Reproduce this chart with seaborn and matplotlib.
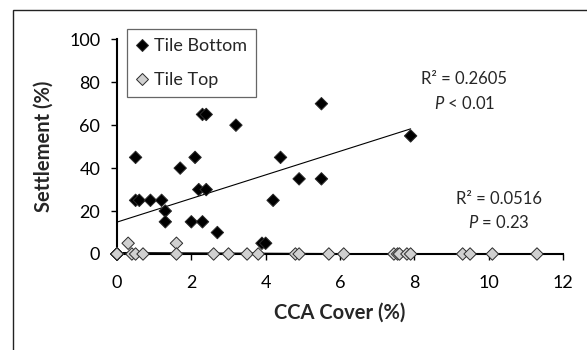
import matplotlib
matplotlib.use("Agg")
import matplotlib.pyplot as plt
import seaborn as sns
import numpy as np
import pandas as pd
from matplotlib.patches import Rectangle

# ---- data ----
bottom_cover = [0, 0, 0, 0, 0, 0.5, 0.5, 0.6, 0.9, 1.2, 1.3, 1.3, 1.7, 2.0, 2.1, 2.2,
                2.3, 2.3, 2.4, 2.4, 2.7, 3.2, 3.9, 4.0, 4.2, 4.4, 4.9, 5.5, 5.5, 7.9]
bottom_settle = [0, 0, 0, 0, 0, 45, 25, 25, 25, 25, 20, 15, 40, 15, 45, 30,
                 65, 15, 65, 30, 10, 60, 5, 5, 25, 45, 35, 35, 70, 55]
top_cover = [0, 0, 0, 0, 0, 0.0, 0.3, 0.4, 0.5, 0.7, 1.6, 1.6, 2.6, 3.0, 3.5, 3.8,
             4.8, 4.9, 5.7, 6.1, 7.45, 7.55, 7.6, 7.8, 7.9, 9.3, 9.5, 10.1, 11.3]
top_settle = [0, 0, 0, 0, 0, 0, 5, 0, 0, 0, 5, 0, 0, 0, 0, 0,
              0, 0, 0, 0, 0, 0, 0, 0, 0, 0, 0, 0, 0]
series_names = ["Tile Bottom", "Tile Top"]
x_ticks = [0, 2, 4, 6, 8, 10, 12]
y_ticks = [0, 20, 40, 60, 80, 100]
stats_bottom = ["R\u00b2 = 0.2605", "$\\mathit{P}$ < 0.01"]
stats_top = ["R\u00b2 = 0.0516", "$\\mathit{P}$ = 0.23"]

sns.set_style("ticks")
plt.rcParams["font.family"] = ["Lato", "DejaVu Sans"]
plt.rcParams["mathtext.fontset"] = "custom"
plt.rcParams["mathtext.it"] = "Lato:italic"
plt.rcParams["mathtext.rm"] = "Lato"

df = pd.DataFrame({
    "cover": bottom_cover + top_cover,
    "settle": bottom_settle + top_settle,
    "tile": [series_names[0]] * len(bottom_cover) + [series_names[1]] * len(top_cover),
})

fig = plt.figure(figsize=(5.87, 3.5), dpi=100)
ax = fig.add_axes([117 / 587, 96 / 350, 446 / 587, 214.7 / 350])

palette = {series_names[0]: "black", series_names[1]: "#d0d0d0"}
sns.scatterplot(data=df, x="cover", y="settle", hue="tile", hue_order=series_names,
                palette=palette, marker="D", s=40, edgecolor="#2a2a2a", linewidth=0.7,
                clip_on=False, zorder=4, ax=ax)

# linear trendlines
for xs, ys in [(bottom_cover, bottom_settle), (top_cover, top_settle)]:
    xs = np.asarray(xs, float)
    ys = np.asarray(ys, float)
    k, b = np.polyfit(xs, ys, 1)
    xl = np.array([xs.min(), xs.max()])
    sns.lineplot(x=xl, y=k * xl + b, color="black", linewidth=0.8, ax=ax, zorder=3)

ax.set_xlim(0, 12)
ax.set_ylim(0, 100)
ax.set_xticks(x_ticks)
ax.set_yticks(y_ticks)
ax.tick_params(axis="both", direction="out", length=4, width=1, color="black",
               labelsize=13, labelcolor="black")
ax.tick_params(axis="y", pad=8)
ax.tick_params(axis="x", pad=11)
for side in ["top", "right"]:
    ax.spines[side].set_visible(False)
for side in ["left", "bottom"]:
    ax.spines[side].set_linewidth(1.5)
    ax.spines[side].set_color("black")
ax.set_facecolor("white")

ax.set_xlabel("CCA Cover (%)", fontsize=14.5, fontweight="bold")
ax.set_ylabel("Settlement (%)", fontsize=14.5, fontweight="bold")
ax.xaxis.set_label_coords(0.5, -0.225)
ax.yaxis.set_label_coords(-0.143, 0.5)

# annotations
ax.text(9.34, 81.4, stats_bottom[0], ha="center", va="center", fontsize=12)
ax.text(9.34, 70.2, stats_bottom[1], ha="center", va="center", fontsize=12)
ax.text(10.28, 25.5, stats_top[0], ha="center", va="center", fontsize=12)
ax.text(10.26, 14.8, stats_top[1], ha="center", va="center", fontsize=12)

# legend
handles, labels = ax.get_legend_handles_labels()
leg = ax.legend(handles, labels, loc="upper left", bbox_to_anchor=(0.0224, 1.048),
                borderaxespad=0, frameon=True, fancybox=False, fontsize=13,
                handlelength=0.7, handletextpad=0.3, labelspacing=1.0,
                borderpad=0.5, title=None)
leg.get_frame().set_edgecolor("#404040")
leg.get_frame().set_linewidth(0.9)

# outer chart border (cropped at right and bottom)
fig.patches.append(Rectangle((12.5 / 587, -0.2), 1.5, (350 - 9.5) / 350 + 0.2,
                             transform=fig.transFigure, fill=False,
                             edgecolor="#222222", linewidth=1.0))

fig.savefig("out.png", dpi=100, facecolor="white")
